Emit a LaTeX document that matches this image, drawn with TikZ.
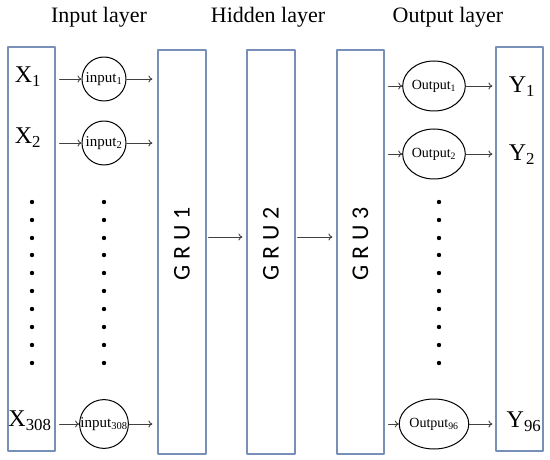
\documentclass[tikz,border=0pt]{standalone}
\usepackage{fontspec}
\setmainfont{Liberation Serif}
\newfontfamily\grufont{Carlito}
\usetikzlibrary{arrows.meta,shapes.geometric}
\definecolor{boxblue}{rgb}{0.47,0.56,0.72}
\definecolor{arrowgray}{rgb}{0.25,0.25,0.25}
\newcommand{\grulabel}[1]{G\hspace{6pt}R\hspace{6pt}U\hspace{6pt}#1}

\begin{document}
\begin{tikzpicture}[line cap=round,line join=round,>={To[length=4pt,width=7pt]},x=1pt,y=-1pt,
  layerbox/.style={draw=boxblue,line width=1.2pt,inner sep=0pt,fill=white},
  grutext/.style={rotate=90,font=\grufont\fontsize{24}{24}\selectfont},
  title/.style={font=\fontsize{22}{26}\selectfont},
  varlabel/.style={font=\fontsize{24}{26}\selectfont,inner sep=0pt},
  unitin/.style={draw,circle,line width=1pt,inner sep=0pt,minimum size=44pt,font=\fontsize{15}{15}\selectfont},
  unitout/.style={draw,ellipse,line width=1pt,inner sep=0pt,minimum width=44pt,minimum height=50pt,font=\fontsize{14}{14}\selectfont},
  link/.style={->,draw=arrowgray,line width=0.9pt}]
\useasboundingbox (0,0) rectangle (550,460);
% titles
\node[title] (tin) at (99,17) {Input layer};
\node[title] (thid) at (268,17) {Hidden layer};
\node[title] (tout) at (448,17) {Output layer};
% columns
\node[layerbox,minimum width=47pt,minimum height=404pt] (xcol) at (31.5,249) {};
\node[layerbox,minimum width=48pt,minimum height=404pt] (gru1) at (182,252) {};
\node[layerbox,minimum width=48pt,minimum height=404pt] (gru2) at (271,252) {};
\node[layerbox,minimum width=47pt,minimum height=404pt] (gru3) at (360.5,252) {};
\node[layerbox,minimum width=47pt,minimum height=404pt] (ycol) at (519.5,249) {};
\node[grutext] (g1) at (182,244) {\grulabel{1}};
\node[grutext] (g2) at (271,244) {\grulabel{2}};
\node[grutext] (g3) at (360.5,244) {\grulabel{3}};
% inputs
\node[varlabel] (x1) at (28,77) {X\textsubscript{1}};
\node[varlabel] (x2) at (28,138) {X\textsubscript{2}};
\node[varlabel] (x308) at (30,421) {X\textsubscript{308}};
\node[unitin] (in1) at (104,79) {input\textsubscript{1}};
\node[unitin] (in2) at (104,143) {input\textsubscript{2}};
\node[unitin] (in308) at (104,424) {input\textsubscript{308}};
% outputs
\node[unitout] (out1) at (434,86) {Output\textsubscript{1}};
\node[unitout] (out2) at (434,154) {Output\textsubscript{2}};
\node[unitout] (out96) at (434,424) {Output\textsubscript{96}};
\node[varlabel] (y1) at (522,87) {Y\textsubscript{1}};
\node[varlabel] (y2) at (522,155) {Y\textsubscript{2}};
\node[varlabel] (y96) at (524,422) {Y\textsubscript{96}};
% dots
\foreach \yy in {202,220,238,255,273,291,309,327,345,363}
{
\fill (32,\yy) circle (2.2pt);
\fill (104,\yy) circle (2.2pt);
\fill (439,\yy) circle (2.2pt);
}
% connections
\coordinate (mid) at (0,237);
\draw[link] ([xshift=4pt]xcol.east |- in1) -- (in1);
\draw[link] ([xshift=4pt]xcol.east |- in2) -- (in2);
\draw[link] ([xshift=4pt]xcol.east |- in308) -- (in308);
\draw[link] (in1) -- ([xshift=-5pt]gru1.west |- in1);
\draw[link] (in2) -- ([xshift=-5pt]gru1.west |- in2);
\draw[link] (in308) -- ([xshift=-5pt]gru1.west |- in308);
\draw[link] ([xshift=2pt]gru1.east |- mid) -- ([xshift=-4pt]gru2.west |- mid);
\draw[link] ([xshift=2pt]gru2.east |- mid) -- ([xshift=-4pt]gru3.west |- mid);
\draw[link] ([xshift=4pt]gru3.east |- out1) -- (out1);
\draw[link] ([xshift=4pt]gru3.east |- out2) -- (out2);
\draw[link] ([xshift=4pt]gru3.east |- out96) -- (out96);
\draw[link] (out1) -- ([xshift=-3pt]ycol.west |- out1);
\draw[link] (out2) -- ([xshift=-3pt]ycol.west |- out2);
\draw[link] (out96) -- ([xshift=-3pt]ycol.west |- out96);
\end{tikzpicture}
\end{document}
